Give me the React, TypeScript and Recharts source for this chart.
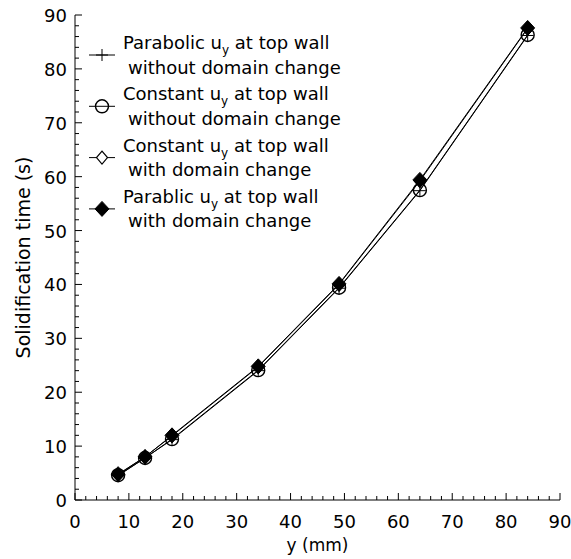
import React from 'react';
import {
  LineChart,
  Line,
  XAxis,
  YAxis,
  Customized
} from 'recharts';

// distance from the casting bottom (mm)
const yPositions = [8, 13, 18, 34, 49, 64, 84];

// solidification time (s) for each boundary treatment
const parabolicWithout = [4.5, 7.8, 11.2, 24.0, 39.3, 57.4, 86.2];
const constantWithout = [4.6, 7.8, 11.3, 24.1, 39.4, 57.5, 86.3];
const constantWith = [4.7, 8.0, 11.9, 24.7, 40.0, 59.2, 87.5];
const parabolicWith = [4.8, 8.0, 12.0, 24.8, 40.1, 59.4, 87.6];

const axisMax = 90;
const majorStep = 10;
const minorStep = 2;
const axisTicks = Array.from({ length: axisMax / minorStep + 1 }, (_, i) => i * minorStep);

type MarkerKind = 'plus' | 'circle' | 'diamond' | 'diamondFilled';

const seriesKeys = ['parabolicWithout', 'constantWithout', 'constantWith', 'parabolicWith'];
const seriesMarkers: MarkerKind[] = ['plus', 'circle', 'diamond', 'diamondFilled'];
const legendLead = ['Parabolic', 'Constant', 'Constant', 'Parablic'];
const legendSecond = ['without domain change', 'without domain change', 'with domain change', 'with domain change'];

const data = yPositions.map((x, i) => ({
  x,
  parabolicWithout: parabolicWithout[i],
  constantWithout: constantWithout[i],
  constantWith: constantWith[i],
  parabolicWith: parabolicWith[i]
}));

const FONT = '"DejaVu Sans", sans-serif';
const INK = '#000';

const Marker = ({ kind, cx, cy }: { kind: MarkerKind; cx: number; cy: number }) => {
  if (kind === 'plus') {
    return (
      <g stroke={INK} strokeWidth={1}>
        <line x1={cx - 6} x2={cx + 6} y1={cy} y2={cy} />
        <line x1={cx} x2={cx} y1={cy - 6} y2={cy + 6} />
      </g>
    );
  }
  if (kind === 'circle') {
    return <circle cx={cx} cy={cy} r={6.5} fill="none" stroke={INK} strokeWidth={1.4} />;
  }
  if (kind === 'diamond') {
    return (
      <polygon
        points={`${cx},${cy - 6.5} ${cx + 5.5},${cy} ${cx},${cy + 6.5} ${cx - 5.5},${cy}`}
        fill="#fff"
        stroke={INK}
        strokeWidth={1.2}
      />
    );
  }
  return (
    <polygon
      points={`${cx},${cy - 7.5} ${cx + 7},${cy} ${cx},${cy + 7.5} ${cx - 7},${cy}`}
      fill={INK}
      stroke={INK}
      strokeWidth={1}
    />
  );
};

const makeDot = (kind: MarkerKind) => (props: any) => {
  const { cx, cy, index } = props;
  if (cx == null || cy == null) return <g key={index} />;
  return <Marker key={index} kind={kind} cx={cx} cy={cy} />;
};

const isMajor = (v: number) => v % majorStep === 0;

const BottomTick = (props: any) => {
  const { x, y, payload } = props;
  const len = isMajor(payload.value) ? 7 : 4;
  return (
    <g>
      <line x1={x} x2={x} y1={y} y2={y - len} stroke={INK} />
      {isMajor(payload.value) && (
        <text x={x} y={y + 28} textAnchor="middle" fontFamily={FONT} fontSize={18} fill={INK}>
          {payload.value}
        </text>
      )}
    </g>
  );
};

const TopTick = (props: any) => {
  const { x, y, payload } = props;
  const len = isMajor(payload.value) ? 7 : 4;
  return <line x1={x} x2={x} y1={y} y2={y + len} stroke={INK} />;
};

const LeftTick = (props: any) => {
  const { x, y, payload } = props;
  const len = isMajor(payload.value) ? 7 : 4;
  return (
    <g>
      <line x1={x} x2={x + len} y1={y} y2={y} stroke={INK} />
      {isMajor(payload.value) && (
        <text x={x - 8} y={y + 7} textAnchor="end" fontFamily={FONT} fontSize={18} fill={INK}>
          {payload.value}
        </text>
      )}
    </g>
  );
};

const RightTick = (props: any) => {
  const { x, y, payload } = props;
  const len = isMajor(payload.value) ? 7 : 4;
  return <line x1={x} x2={x - len} y1={y} y2={y} stroke={INK} />;
};

// legend block in the upper-left corner of the plot
const LegendBox = () => (
  <g fontFamily={FONT} fontSize={18} fill={INK}>
    {seriesMarkers.map((kind, i) => {
      const my = 55 + i * 51.3;
      return (
        <g key={kind}>
          <line x1={89} x2={115} y1={my} y2={my} stroke={INK} strokeWidth={1} />
          <Marker kind={kind} cx={102} cy={my} />
          <text x={123} y={my - 6}>
            <tspan>{legendLead[i]} u</tspan>
            <tspan fontSize={12} dy={5}>y</tspan>
            <tspan dy={-5}> at top wall</tspan>
          </text>
          <text x={128} y={my + 18.5}>{legendSecond[i]}</text>
        </g>
      );
    })}
  </g>
);

const App: React.FC = () => {
  return (
    <div style={{ position: 'absolute', left: 0, top: 0, width: 571, height: 559, background: '#fff' }}>
      <LineChart width={571} height={559} data={data} margin={{ top: 15, right: 11, bottom: 0, left: 15 }}>
        <XAxis
          dataKey="x"
          type="number"
          domain={[0, axisMax]}
          ticks={axisTicks}
          interval={0}
          tickLine={false}
          tickSize={0}
          tickMargin={0}
          height={59}
          stroke={INK}
          tick={<BottomTick />}
          label={{
            value: 'y (mm)',
            content: ({ viewBox }: any) => (
              <text
                x={viewBox.x + viewBox.width / 2}
                y={551}
                textAnchor="middle"
                fontFamily={FONT}
                fontSize={17}
                fill={INK}
              >
                y (mm)
              </text>
            )
          }}
        />
        <XAxis
          xAxisId="top"
          orientation="top"
          dataKey="x"
          type="number"
          domain={[0, axisMax]}
          ticks={axisTicks}
          interval={0}
          tickLine={false}
          tickSize={0}
          tickMargin={0}
          height={0}
          stroke={INK}
          tick={<TopTick />}
        />
        <YAxis
          type="number"
          domain={[0, axisMax]}
          ticks={axisTicks}
          interval={0}
          tickLine={false}
          tickSize={0}
          tickMargin={0}
          width={60}
          stroke={INK}
          tick={<LeftTick />}
          label={{
            value: 'Solidification time (s)',
            content: ({ viewBox }: any) => {
              const cy = viewBox.y + viewBox.height / 2;
              return (
                <text
                  x={30}
                  y={cy}
                  transform={`rotate(-90, 30, ${cy})`}
                  textAnchor="middle"
                  fontFamily={FONT}
                  fontSize={19}
                  fill={INK}
                >
                  Solidification time (s)
                </text>
              );
            }
          }}
        />
        <YAxis
          yAxisId="right"
          orientation="right"
          type="number"
          domain={[0, axisMax]}
          ticks={axisTicks}
          interval={0}
          tickLine={false}
          tickSize={0}
          tickMargin={0}
          width={0}
          stroke={INK}
          tick={<RightTick />}
        />
        {seriesKeys.map((key, i) => (
          <Line
            key={key}
            type="linear"
            dataKey={key}
            stroke={INK}
            strokeWidth={1}
            dot={makeDot(seriesMarkers[i])}
            activeDot={false}
            isAnimationActive={false}
          />
        ))}
        <Customized component={LegendBox} />
      </LineChart>
    </div>
  );
};

export default App;
